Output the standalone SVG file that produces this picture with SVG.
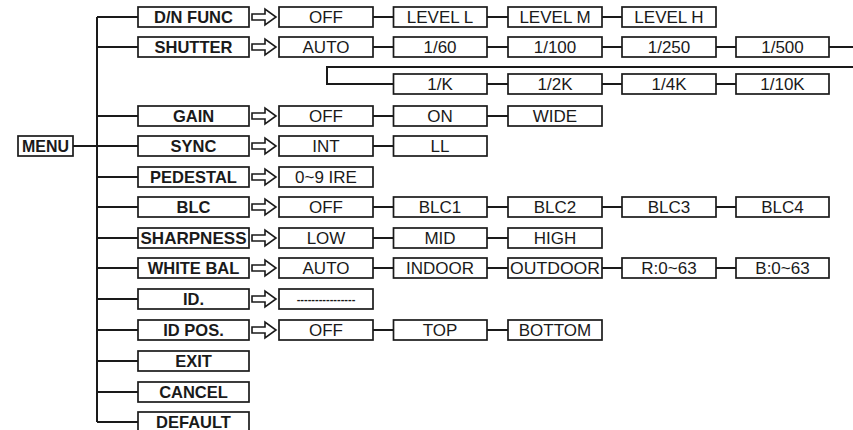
<svg xmlns="http://www.w3.org/2000/svg" xmlns:xlink="http://www.w3.org/1999/xlink" width="853" height="430" viewBox="0 0 853 430">
<style>
.bx{fill:#fff;stroke:#1a1a1a;stroke-width:1.7}
.mt{font-family:"Liberation Sans",Arial,sans-serif;font-weight:bold;font-size:16.5px;fill:#1a1a1a;text-anchor:middle}
.vt{font-family:"Liberation Sans",Arial,sans-serif;font-size:17px;fill:#1a1a1a;text-anchor:middle}
.ln{fill:none;stroke:#1a1a1a;stroke-width:2}
.ar{fill:#fff;stroke:#1a1a1a;stroke-width:1.6;stroke-linejoin:miter}
</style>
<defs>
<path id="arr" class="ar" d="M0,-3 H13 V-8 L24,0 L13,8 V3 H0 Z"/>
</defs>
<rect width="853" height="430" fill="#fff"/>
<g id="connectors">
<path class="ln" d="M73,146 H97 M97,17 V422 M97,17 H138 M97,47 H138 M97,116 H138 M97,146 H138 M97,177 H138 M97,207 H138 M97,238 H138 M97,268 H138 M97,299 H138 M97,330 H138 M97,361 H138 M97,392 H138 M97,422 H138"/>
<path class="ln" d="M373,17 H393.5 M487,17 H508 M602,17 H622"/>
<path class="ln" d="M373,47 H393.5 M487,47 H508 M602,47 H622 M716,47 H736 M829,47 H853"/>
<path class="ln" d="M853,67 H327 V84 H393.5 M487,84 H508 M602,84 H622 M716,84 H736"/>
<path class="ln" d="M373,116 H393.5 M487,116 H508"/>
<path class="ln" d="M373,146 H393.5"/>
<path class="ln" d="M373,207 H393.5 M487,207 H508 M602,207 H622 M716,207 H736"/>
<path class="ln" d="M373,238 H393.5 M487,238 H508"/>
<path class="ln" d="M373,268 H393.5 M487,268 H508 M602,268 H622 M716,268 H736"/>
<path class="ln" d="M373,330 H393.5 M487,330 H508"/>
<use xlink:href="#arr" x="252" y="17"/>
<use xlink:href="#arr" x="252" y="47"/>
<use xlink:href="#arr" x="252" y="116"/>
<use xlink:href="#arr" x="252" y="146"/>
<use xlink:href="#arr" x="252" y="177"/>
<use xlink:href="#arr" x="252" y="207"/>
<use xlink:href="#arr" x="252" y="238"/>
<use xlink:href="#arr" x="252" y="268"/>
<use xlink:href="#arr" x="252" y="299"/>
<use xlink:href="#arr" x="252" y="330"/>
</g>
<g id="menu"><rect class="bx" x="18" y="136" width="55" height="20"/><text class="mt" x="45.5" y="152" textLength="47" lengthAdjust="spacingAndGlyphs">MENU</text></g>
<g id="m-dn"><rect class="bx" x="138" y="7" width="111" height="20"/><text class="mt" x="193.5" y="23">D/N FUNC</text></g>
<g id="m-shutter"><rect class="bx" x="138" y="37" width="111" height="20"/><text class="mt" x="193.5" y="53">SHUTTER</text></g>
<g id="m-gain"><rect class="bx" x="138" y="106" width="111" height="20"/><text class="mt" x="193.5" y="122">GAIN</text></g>
<g id="m-sync"><rect class="bx" x="138" y="136" width="111" height="20"/><text class="mt" x="193.5" y="152">SYNC</text></g>
<g id="m-ped"><rect class="bx" x="138" y="167" width="111" height="20"/><text class="mt" x="193.5" y="183">PEDESTAL</text></g>
<g id="m-blc"><rect class="bx" x="138" y="197" width="111" height="20"/><text class="mt" x="193.5" y="213">BLC</text></g>
<g id="m-sharp"><rect class="bx" x="138" y="228" width="111" height="20"/><text class="mt" x="193.5" y="244" textLength="106" lengthAdjust="spacingAndGlyphs">SHARPNESS</text></g>
<g id="m-wb"><rect class="bx" x="138" y="258" width="111" height="20"/><text class="mt" x="193.5" y="274">WHITE BAL</text></g>
<g id="m-id"><rect class="bx" x="138" y="289" width="111" height="20"/><text class="mt" x="193.5" y="305">ID.</text></g>
<g id="m-idpos"><rect class="bx" x="138" y="320" width="111" height="20"/><text class="mt" x="193.5" y="336">ID POS.</text></g>
<g id="m-exit"><rect class="bx" x="138" y="351" width="111" height="20"/><text class="mt" x="193.5" y="367">EXIT</text></g>
<g id="m-cancel"><rect class="bx" x="138" y="382" width="111" height="20"/><text class="mt" x="193.5" y="398">CANCEL</text></g>
<g id="m-default"><rect class="bx" x="138" y="412" width="111" height="20"/><text class="mt" x="193.5" y="428">DEFAULT</text></g>

<g id="dn-off"><rect class="bx" x="279" y="7" width="94" height="20"/><text class="vt" x="326" y="23">OFF</text></g>
<g id="dn-l"><rect class="bx" x="393.5" y="7" width="93.5" height="20"/><text class="vt" x="440" y="23">LEVEL L</text></g>
<g id="dn-m"><rect class="bx" x="508" y="7" width="94" height="20"/><text class="vt" x="555" y="23">LEVEL M</text></g>
<g id="dn-h"><rect class="bx" x="622" y="7" width="94" height="20"/><text class="vt" x="669" y="23">LEVEL H</text></g>

<g id="sh-auto"><rect class="bx" x="279" y="37" width="94" height="20"/><text class="vt" x="326" y="53">AUTO</text></g>
<g id="sh-60"><rect class="bx" x="393.5" y="37" width="93.5" height="20"/><text class="vt" x="440" y="53">1/60</text></g>
<g id="sh-100"><rect class="bx" x="508" y="37" width="94" height="20"/><text class="vt" x="555" y="53">1/100</text></g>
<g id="sh-250"><rect class="bx" x="622" y="37" width="94" height="20"/><text class="vt" x="669" y="53">1/250</text></g>
<g id="sh-500"><rect class="bx" x="736" y="37" width="93" height="20"/><text class="vt" x="782.5" y="53">1/500</text></g>
<g id="sh-1k"><rect class="bx" x="393.5" y="74" width="93.5" height="20"/><text class="vt" x="440" y="90">1/K</text></g>
<g id="sh-2k"><rect class="bx" x="508" y="74" width="94" height="20"/><text class="vt" x="555" y="90">1/2K</text></g>
<g id="sh-4k"><rect class="bx" x="622" y="74" width="94" height="20"/><text class="vt" x="669" y="90">1/4K</text></g>
<g id="sh-10k"><rect class="bx" x="736" y="74" width="93" height="20"/><text class="vt" x="782.5" y="90">1/10K</text></g>

<g id="g-off"><rect class="bx" x="279" y="106" width="94" height="20"/><text class="vt" x="326" y="122">OFF</text></g>
<g id="g-on"><rect class="bx" x="393.5" y="106" width="93.5" height="20"/><text class="vt" x="440" y="122">ON</text></g>
<g id="g-wide"><rect class="bx" x="508" y="106" width="94" height="20"/><text class="vt" x="555" y="122">WIDE</text></g>

<g id="s-int"><rect class="bx" x="279" y="136" width="94" height="20"/><text class="vt" x="326" y="152">INT</text></g>
<g id="s-ll"><rect class="bx" x="393.5" y="136" width="93.5" height="20"/><text class="vt" x="440" y="152">LL</text></g>

<g id="p-ire"><rect class="bx" x="279" y="167" width="94" height="20"/><text class="vt" x="326" y="183">0~9 IRE</text></g>

<g id="b-off"><rect class="bx" x="279" y="197" width="94" height="20"/><text class="vt" x="326" y="213">OFF</text></g>
<g id="b-1"><rect class="bx" x="393.5" y="197" width="93.5" height="20"/><text class="vt" x="440" y="213">BLC1</text></g>
<g id="b-2"><rect class="bx" x="508" y="197" width="94" height="20"/><text class="vt" x="555" y="213">BLC2</text></g>
<g id="b-3"><rect class="bx" x="622" y="197" width="94" height="20"/><text class="vt" x="669" y="213">BLC3</text></g>
<g id="b-4"><rect class="bx" x="736" y="197" width="93" height="20"/><text class="vt" x="782.5" y="213">BLC4</text></g>

<g id="sp-low"><rect class="bx" x="279" y="228" width="94" height="20"/><text class="vt" x="326" y="244">LOW</text></g>
<g id="sp-mid"><rect class="bx" x="393.5" y="228" width="93.5" height="20"/><text class="vt" x="440" y="244">MID</text></g>
<g id="sp-high"><rect class="bx" x="508" y="228" width="94" height="20"/><text class="vt" x="555" y="244">HIGH</text></g>

<g id="w-auto"><rect class="bx" x="279" y="258" width="94" height="20"/><text class="vt" x="326" y="274">AUTO</text></g>
<g id="w-in"><rect class="bx" x="393.5" y="258" width="93.5" height="20"/><text class="vt" x="440" y="274">INDOOR</text></g>
<g id="w-out"><rect class="bx" x="508" y="258" width="94" height="20"/><text class="vt" x="555" y="274" textLength="90" lengthAdjust="spacingAndGlyphs">OUTDOOR</text></g>
<g id="w-r"><rect class="bx" x="622" y="258" width="94" height="20"/><text class="vt" x="669" y="274">R:0~63</text></g>
<g id="w-b"><rect class="bx" x="736" y="258" width="93" height="20"/><text class="vt" x="782.5" y="274">B:0~63</text></g>

<g id="id-val"><rect class="bx" x="279" y="289" width="94" height="20"/><text class="vt" x="326" y="303" style="font-size:11px;font-weight:bold">----------------</text></g>

<g id="ip-off"><rect class="bx" x="279" y="320" width="94" height="20"/><text class="vt" x="326" y="336">OFF</text></g>
<g id="ip-top"><rect class="bx" x="393.5" y="320" width="93.5" height="20"/><text class="vt" x="440" y="336">TOP</text></g>
<g id="ip-bot"><rect class="bx" x="508" y="320" width="94" height="20"/><text class="vt" x="555" y="336">BOTTOM</text></g>
</svg>
